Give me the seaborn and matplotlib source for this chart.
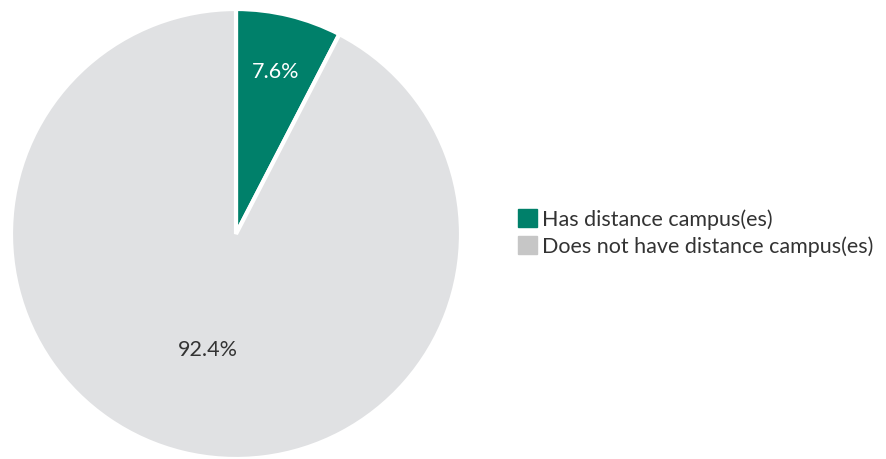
import numpy as np
import matplotlib
matplotlib.use("Agg")
import matplotlib.pyplot as plt
import matplotlib.patches as mpatches
import seaborn as sns

labels = ["Has distance campus(es)", "Does not have distance campus(es)"]
values = [7.6, 92.4]
pie_colors = ["#00806A", "#E0E1E3"]
legend_colors = ["#00806A", "#C6C6C6"]
label_colors = ["white", "#333333"]
label_dist = [0.74, 0.53]

sns.set_theme(style="white")
plt.rcParams["font.family"] = ["Lato", "DejaVu Sans"]

W, H = 887, 459
fig = plt.figure(figsize=(W / 100, H / 100), dpi=100)
cx, cy, r = 236, 234, 225
ax = fig.add_axes([(cx - r) / W, (H - cy - r) / H, 2 * r / W, 2 * r / H])

wedges, texts = ax.pie(
    values, colors=pie_colors, startangle=90, counterclock=False,
    radius=1.0, wedgeprops=dict(edgecolor="white", linewidth=3),
)
for w, v, d, c in zip(wedges, values, label_dist, label_colors):
    ang = np.deg2rad((w.theta1 + w.theta2) / 2)
    ax.text(d * np.cos(ang), d * np.sin(ang), f"{v:.1f}%", ha="center",
            va="center", fontsize=15.5, color=c)
ax.set_xlim(-1, 1)
ax.set_ylim(-1, 1)
ax.set_aspect("equal")
ax.axis("off")

handles = [mpatches.Patch(color=c, label=l) for c, l in zip(legend_colors, labels)]
fig.legend(handles=handles, loc="center left", bbox_to_anchor=(518 / W, 1 - 233 / H),
           frameon=False, fontsize=15.5, handlelength=0.9, handleheight=0.9,
           handletextpad=0.2, labelspacing=0.3, labelcolor="#333333",
           borderaxespad=0, borderpad=0)

fig.savefig("out.png", dpi=100)
